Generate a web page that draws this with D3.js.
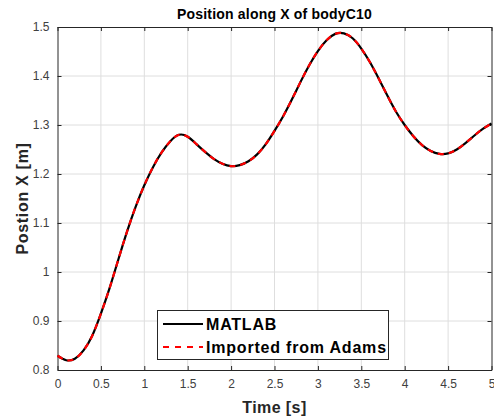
<!DOCTYPE html>
<html>
<head>
<meta charset="utf-8">
<script src="https://cdn.jsdelivr.net/npm/d3@7"></script>
<style>
  body { margin: 0; background: #fff; }
  svg { display: block; font-family: "Liberation Sans", Arial, sans-serif; }
</style>
</head>
<body>
<div id="chart"></div>
<script>
// time samples [s]
const time = [0, 0.1, 0.2, 0.3, 0.4, 0.5, 0.6, 0.7, 0.8, 0.9,
  1.0, 1.1, 1.2, 1.3, 1.4, 1.5, 1.6, 1.7, 1.8, 1.9,
  2.0, 2.1, 2.2, 2.3, 2.4, 2.5, 2.6, 2.7, 2.8, 2.9,
  3.0, 3.1, 3.2, 3.3, 3.4, 3.5, 3.6, 3.7, 3.8, 3.9,
  4.0, 4.1, 4.2, 4.3, 4.4, 4.5, 4.6, 4.7, 4.8, 4.9, 5.0];

// position X [m], MATLAB result
const matlabX = [0.829, 0.820, 0.823, 0.840, 0.870, 0.915, 0.967, 1.025, 1.082, 1.133,
  1.177, 1.214, 1.244, 1.267, 1.280, 1.276, 1.261, 1.245, 1.231, 1.221,
  1.216, 1.218, 1.226, 1.240, 1.261, 1.288, 1.318, 1.352, 1.388, 1.422,
  1.451, 1.473, 1.486, 1.487, 1.477, 1.456, 1.428, 1.395, 1.360, 1.327,
  1.300, 1.277, 1.259, 1.247, 1.241, 1.242, 1.250, 1.263, 1.278, 1.292, 1.303];

// position X [m], imported from Adams (overlaps MATLAB)
const adamsX = [0.829, 0.820, 0.823, 0.840, 0.870, 0.915, 0.967, 1.025, 1.082, 1.133,
  1.177, 1.214, 1.244, 1.267, 1.280, 1.276, 1.261, 1.245, 1.231, 1.221,
  1.216, 1.218, 1.226, 1.240, 1.261, 1.288, 1.318, 1.352, 1.388, 1.422,
  1.451, 1.473, 1.486, 1.487, 1.477, 1.456, 1.428, 1.395, 1.360, 1.327,
  1.300, 1.277, 1.259, 1.247, 1.241, 1.242, 1.250, 1.263, 1.278, 1.292, 1.303];

const xTicks = [0, 0.5, 1, 1.5, 2, 2.5, 3, 3.5, 4, 4.5, 5];
const yTicks = [0.8, 0.9, 1, 1.1, 1.2, 1.3, 1.4, 1.5];
const legendLabels = ['MATLAB', 'Imported from Adams'];

const width = 494, height = 418;
const margin = { left: 57.5, right: 2.5, top: 27, bottom: 48 };
const axisColor = '#262626';

const svg = d3.select('#chart').append('svg')
  .attr('width', width)
  .attr('height', height);

const x = d3.scaleLinear().domain([0, 5]).range([margin.left, width - margin.right]);
const y = d3.scaleLinear().domain([0.8, 1.5]).range([height - margin.bottom, margin.top]);

const x0 = x.range()[0], x1 = x.range()[1];
const y0 = y.range()[0], y1 = y.range()[1];

// grid
svg.append('g').selectAll('line')
  .data(xTicks.slice(1, -1)).enter().append('line')
  .attr('x1', d => x(d)).attr('x2', d => x(d))
  .attr('y1', y1).attr('y2', y0)
  .attr('stroke', '#dedede').attr('stroke-width', 1);
svg.append('g').selectAll('line')
  .data(yTicks.slice(1, -1)).enter().append('line')
  .attr('x1', x0).attr('x2', x1)
  .attr('y1', d => y(d)).attr('y2', d => y(d))
  .attr('stroke', '#dedede').attr('stroke-width', 1);

// axes (ticks pointing inward, like MATLAB)
const fmt = d => String(d);
const gx = svg.append('g').attr('transform', `translate(0,${y0})`)
  .call(d3.axisBottom(x).tickValues(xTicks).tickFormat(fmt).tickSizeInner(-4).tickSizeOuter(0).tickPadding(9));
const gxTop = svg.append('g').attr('transform', `translate(0,${y1})`)
  .call(d3.axisTop(x).tickValues(xTicks).tickFormat('').tickSizeInner(-4).tickSizeOuter(0));
const gy = svg.append('g').attr('transform', `translate(${x0},0)`)
  .call(d3.axisLeft(y).tickValues(yTicks).tickFormat(fmt).tickSizeInner(-4).tickSizeOuter(0).tickPadding(8));
const gyRight = svg.append('g').attr('transform', `translate(${x1},0)`)
  .call(d3.axisRight(y).tickValues(yTicks).tickFormat('').tickSizeInner(-4).tickSizeOuter(0));

[gx, gxTop, gy, gyRight].forEach(g => {
  g.select('.domain').attr('stroke', axisColor).attr('stroke-width', 1);
  g.selectAll('.tick line').attr('stroke', axisColor);
  g.selectAll('.tick text')
    .attr('fill', '#404040')
    .attr('font-size', '12px');
});

// curves
const line = d3.line()
  .x((d, i) => x(time[i]))
  .y(d => y(d))
  .curve(d3.curveNatural);

svg.append('path')
  .datum(matlabX)
  .attr('d', line)
  .attr('fill', 'none')
  .attr('stroke', '#000')
  .attr('stroke-width', 2.2);

svg.append('path')
  .datum(adamsX)
  .attr('d', line)
  .attr('fill', 'none')
  .attr('stroke', '#ff0000')
  .attr('stroke-width', 2.2)
  .attr('stroke-dasharray', '6,5');

// title and axis labels
svg.append('text')
  .attr('x', (x0 + x1) / 2).attr('y', 18.5)
  .attr('text-anchor', 'middle')
  .attr('font-size', '14px').attr('font-weight', 'bold')
  .attr('letter-spacing', '0.2px')
  .attr('fill', '#000')
  .text('Position along X of bodyC10');

svg.append('text')
  .attr('x', (x0 + x1) / 2).attr('y', 413)
  .attr('text-anchor', 'middle')
  .attr('font-size', '16px').attr('font-weight', 'bold')
  .attr('letter-spacing', '0.4px')
  .attr('fill', axisColor)
  .text('Time [s]');

svg.append('text')
  .attr('transform', `translate(28,${(y0 + y1) / 2}) rotate(-90)`)
  .attr('text-anchor', 'middle')
  .attr('font-size', '16px').attr('font-weight', 'bold')
  .attr('letter-spacing', '0.7px')
  .attr('fill', axisColor)
  .text('Postion X [m]');

// legend
const legend = svg.append('g').attr('transform', 'translate(157.5,310.5)');
legend.append('rect')
  .attr('width', 231).attr('height', 49)
  .attr('fill', '#fff')
  .attr('stroke', axisColor).attr('stroke-width', 1);

const legendStyles = [
  { color: '#000', dash: null },
  { color: '#ff0000', dash: '6,6' }
];

legend.selectAll('.legend-item')
  .data(legendLabels)
  .enter().append('g')
  .attr('class', 'legend-item')
  .attr('transform', (d, i) => `translate(0,${13.5 + i * 23})`)
  .each(function(d, i) {
    const g = d3.select(this);
    g.append('line')
      .attr('x1', 5.5).attr('x2', 45.5)
      .attr('y1', 0).attr('y2', 0)
      .attr('stroke', legendStyles[i].color)
      .attr('stroke-width', 2.2)
      .attr('stroke-dasharray', legendStyles[i].dash);
    g.append('text')
      .attr('x', 48.5).attr('y', 6)
      .attr('font-size', '16px').attr('font-weight', 'bold')
      .attr('letter-spacing', '0.8px')
      .attr('fill', '#000')
      .text(d);
  });
</script>
</body>
</html>
